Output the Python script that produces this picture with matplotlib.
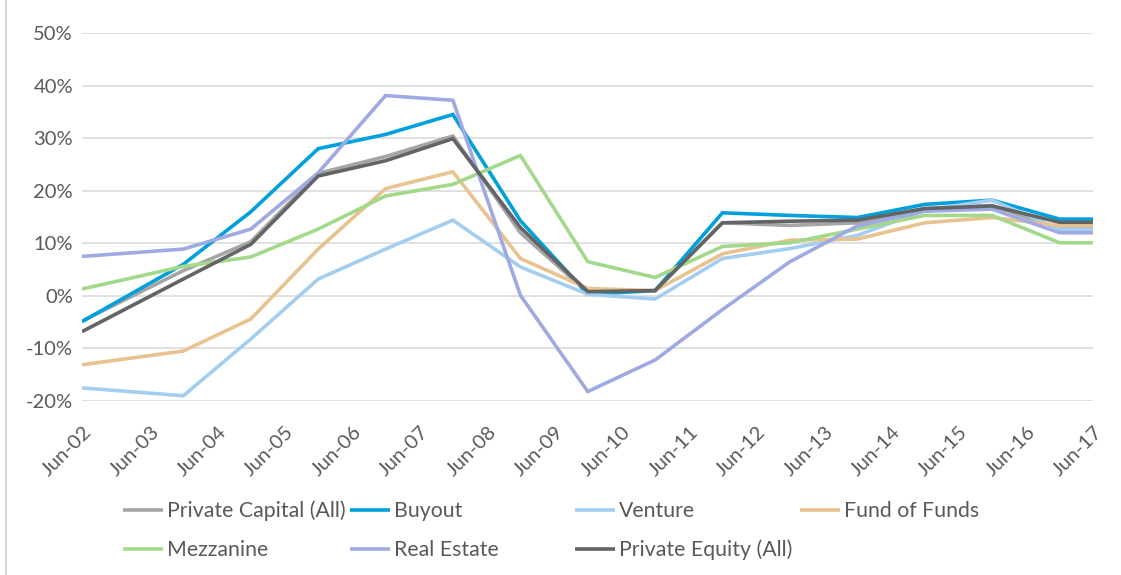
import numpy as np
import pandas as pd
import matplotlib
matplotlib.use("Agg")
import matplotlib.pyplot as plt
import matplotlib.dates as mdates
import matplotlib.transforms as mtransforms
from matplotlib.ticker import FuncFormatter
from matplotlib.lines import Line2D

# Data (returns in %), Jun-02, Dec-03 ... Dec-16, Jun-17
dates = ["2002-06-30"] + ["%d-12-31" % y for y in range(2003, 2017)] + ["2017-06-30"]

private_capital = [-4.8, 4.8, 10.3, 23.3, 26.5, 30.4, 12.0, 0.6, 1.0, 13.9, 13.4, 13.9, 16.6, 17.2, 12.8, 12.8]
buyout = [-4.9, 6.0, 16.0, 28.0, 30.7, 34.5, 14.3, 0.3, 1.0, 15.8, 15.3, 14.9, 17.4, 18.2, 14.6, 14.6]
venture = [-17.5, -19.0, -8.2, 3.2, 8.9, 14.4, 5.5, 0.3, -0.6, 7.1, 9.0, 11.5, 16.3, 18.2, 12.7, 12.7]
fund_of_funds = [-13.1, -10.5, -4.4, 8.9, 20.4, 23.6, 7.1, 1.4, 1.0, 8.0, 10.6, 10.8, 13.9, 14.9, 13.4, 13.4]
mezzanine = [1.3, 5.6, 7.4, 12.7, 19.0, 21.2, 26.7, 6.5, 3.5, 9.4, 10.1, 12.7, 15.3, 15.3, 10.1, 10.1]
real_estate = [7.5, 8.9, 12.7, 23.4, 38.1, 37.2, 0.1, -18.2, -12.2, -2.6, 6.5, 13.3, 16.1, 16.5, 12.0, 12.0]
private_equity = [-6.8, 3.2, 9.8, 22.8, 25.7, 29.9, 13.0, 0.8, 1.0, 13.9, 14.2, 14.4, 16.6, 17.1, 14.0, 14.0]

series = [
    ("Private Capital (All)", private_capital, "#A5A5A5"),
    ("Buyout", buyout, "#00A0DC"),
    ("Venture", venture, "#A3CEF0"),
    ("Fund of Funds", fund_of_funds, "#E8C28F"),
    ("Mezzanine", mezzanine, "#A2D98B"),
    ("Real Estate", real_estate, "#A0AAE2"),
    ("Private Equity (All)", private_equity, "#636466"),
]
tick_dates = ["%d-06-30" % y for y in range(2002, 2018)]

plt.rcParams['font.family'] = ['Lato', 'DejaVu Sans']
text_color = "#595959"
W, H = 1121, 575

x = pd.to_datetime(dates)
fig = plt.figure(figsize=(W / 100, H / 100), dpi=100)
ax = fig.add_axes([82 / W, 1 - 401 / H, (1093 - 82) / W, (401 - 33) / H])

lines = {}
for name, vals, col in series:
    ln, = ax.plot(x, vals, color=col, lw=2.6, solid_joinstyle="miter", solid_capstyle="butt")
    lines[name] = ln

ax.set_ylim(-20, 50)
ax.set_yticks(np.arange(-20, 51, 10))
ax.yaxis.set_major_formatter(FuncFormatter(lambda v, p: "%d%%" % v))
ax.set_xlim(x[0], pd.Timestamp("2017-06-30"))
ax.set_xticks(pd.to_datetime(tick_dates))
ax.xaxis.set_major_formatter(mdates.DateFormatter("%b-%y"))
ax.grid(axis="y", color="#D9D9D9", lw=1.1)
ax.set_axisbelow(True)
for s in ax.spines.values():
    s.set_visible(False)
ax.tick_params(length=0, labelsize=14.5, colors=text_color)
ax.tick_params(axis="y", pad=6.5)
ax.tick_params(axis="x", pad=16)
shift = mtransforms.ScaledTranslation(1 / 100, 0, fig.dpi_scale_trans)
for lab in ax.get_xticklabels():
    lab.set_rotation(45)
    lab.set_ha("right")
    lab.set_va("top")
    lab.set_rotation_mode("anchor")
    lab.set_transform(lab.get_transform() + shift)

# chart area border (left edge visible)
fig.add_artist(Line2D([5.5 / W, 5.5 / W], [0, 1], color="#D0D0D0", lw=1.2))

# legend entries laid out on a 4-column grid like the original
col_x = [123, 350, 575, 800]
row_y = [511, 550]
order = ["Private Capital (All)", "Buyout", "Venture", "Fund of Funds",
         "Mezzanine", "Real Estate", "Private Equity (All)"]
for i, name in enumerate(order):
    r, c = divmod(i, 4)
    fig.legend([lines[name]], [name], loc="center left",
               bbox_to_anchor=(col_x[c] / W, 1 - row_y[r] / H), frameon=False,
               fontsize=15.3, labelcolor=text_color, handlelength=1.88,
               handletextpad=0.19, borderpad=0, borderaxespad=0)

fig.savefig("out.png", dpi=100)
